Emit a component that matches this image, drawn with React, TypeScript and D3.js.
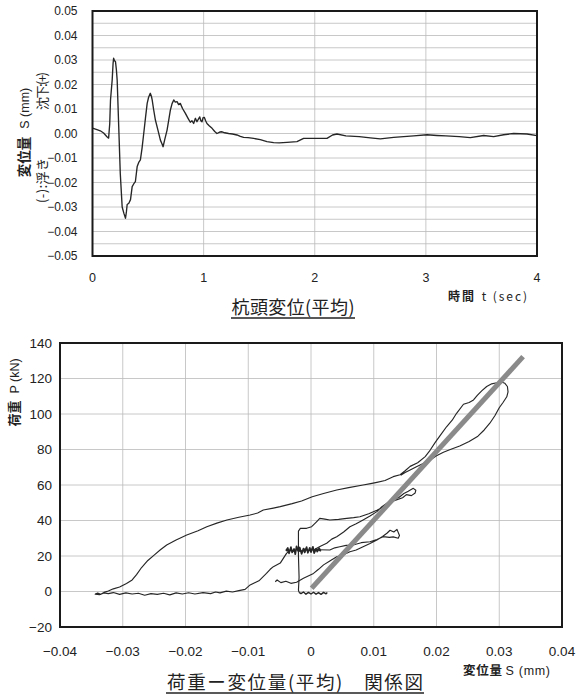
import React from "react";
import * as d3 from "d3";

// ---------- Top chart data: pile-head displacement vs time ----------
const dispTime = [
  0.0, 0.04, 0.07, 0.1, 0.13, 0.145, 0.155, 0.162, 0.177, 0.185, 0.19, 0.197, 0.207, 0.215, 0.222,
  0.236, 0.25, 0.267, 0.282, 0.297, 0.305, 0.312, 0.327, 0.342, 0.357, 0.372, 0.386, 0.402, 0.416,
  0.431, 0.446, 0.461, 0.477, 0.492, 0.505, 0.52, 0.53, 0.537, 0.55, 0.566, 0.59, 0.611, 0.625,
  0.635, 0.65, 0.671, 0.686, 0.701, 0.716, 0.731, 0.745, 0.761, 0.775, 0.79, 0.81, 0.836, 0.86,
  0.88, 0.895, 0.91, 0.926, 0.94, 0.952, 0.965, 0.975, 0.985, 0.995, 1.006, 1.018, 1.03, 1.05,
  1.076, 1.1, 1.12, 1.145, 1.166, 1.19, 1.225, 1.26, 1.3, 1.33, 1.36, 1.4, 1.45, 1.51, 1.57, 1.63,
  1.68, 1.75, 1.84, 1.9, 2.0, 2.11, 2.16, 2.2, 2.28, 2.4, 2.5, 2.59, 2.71, 2.8, 2.89, 3.01, 3.1,
  3.18, 3.3, 3.4, 3.52, 3.61, 3.7, 3.79, 3.91, 4.0,
];
const dispValue = [
  0.0022, 0.0016, 0.0011, 0.0002, -0.0013, -0.0019, 0.004, 0.0137, 0.0218, 0.0285, 0.0307, 0.0298,
  0.0293, 0.026, 0.0218, 0.0028, -0.0163, -0.03, -0.0325, -0.0346, -0.032, -0.029, -0.0285,
  -0.027, -0.0217, -0.0205, -0.0196, -0.0135, -0.0118, -0.0108, -0.006, 0.0, 0.0065, 0.0123,
  0.0148, 0.0164, 0.0152, 0.0137, 0.0098, 0.0055, 0.0012, -0.0027, -0.0042, -0.0054, -0.0025,
  0.0014, 0.0055, 0.0096, 0.0122, 0.0137, 0.0128, 0.013, 0.0118, 0.0123, 0.0102, 0.0082, 0.0062,
  0.0046, 0.0052, 0.0041, 0.0062, 0.0048, 0.0058, 0.0068, 0.0052, 0.0048, 0.0065, 0.0066, 0.0052,
  0.0041, 0.0032, 0.0021, 0.0008, 0.0, 0.0006, 0.0007, 0.0003, 0.0, -0.0002, -0.0006, -0.0012,
  -0.0016, -0.0017, -0.002, -0.0025, -0.0033, -0.0037, -0.0038, -0.0036, -0.0033, -0.002, -0.002,
  -0.002, -0.0006, -0.0002, -0.001, -0.0013, -0.0018, -0.0022, -0.0016, -0.0013, -0.001, -0.0005,
  -0.0008, -0.001, -0.0013, -0.0017, -0.0008, -0.0013, -0.0005, 0.0, -0.0002, -0.0009,
];
const topYTicks = [0.05, 0.04, 0.03, 0.02, 0.01, 0.0, -0.01, -0.02, -0.03, -0.04, -0.05];
const topYLabels = ["0.05", "0.04", "0.03", "0.02", "0.01", "0.00", "−0.01", "−0.02", "−0.03", "−0.04", "−0.05"];
const topYGrid = [0.045, 0.04, 0.035, 0.03, 0.025, 0.02, 0.015, 0.01, 0.005, 0.0, -0.005, -0.01, -0.015, -0.02, -0.025, -0.03, -0.035, -0.04, -0.045];
const topXTicks = [0, 1, 2, 3, 4];
const topXGrid = [1, 2, 3];

// ---------- Bottom chart data: load P (kN) vs displacement S (mm) ----------
const loopA: [number, number][] = [
  [-0.0036, 22.5], [-0.0039, 21.5], [-0.0049, 16], [-0.006, 14], [-0.0065, 12.5], [-0.0071, 10.2],
  [-0.0083, 6], [-0.0097, 3.7], [-0.0105, 1.2], [-0.0115, 0.5], [-0.0125, -0.3], [-0.0135, 0.2],
  [-0.0145, -0.8], [-0.0152, -0.3], [-0.016, -1.2], [-0.0172, -0.6], [-0.0185, -1.4], [-0.0195, -0.7],
  [-0.0205, -1.4], [-0.0215, -0.8], [-0.0225, -1.9], [-0.0235, -1.0], [-0.0245, -1.6], [-0.0255, -1.2],
  [-0.0265, -2.1], [-0.0275, -1.0], [-0.0285, -1.4], [-0.0295, -0.8], [-0.0305, -1.6], [-0.0315, -0.6],
  [-0.0323, -1.2], [-0.033, -0.8], [-0.0337, -1.8], [-0.0344, -1.5], [-0.034, -0.9], [-0.0335, -1.6],
  [-0.033, -0.5], [-0.0323, 0.3], [-0.0315, 1.5], [-0.0305, 2.5], [-0.0294, 4.5], [-0.0285, 6.5],
  [-0.0278, 9.5], [-0.027, 13.5], [-0.026, 17.5], [-0.025, 20.5], [-0.024, 23.5], [-0.023, 26.2],
  [-0.0215, 29], [-0.0198, 31.8], [-0.018, 34.2], [-0.0166, 36.5], [-0.015, 38.5], [-0.0134, 40.3],
  [-0.0115, 41.8], [-0.0097, 43.1], [-0.0085, 44.2], [-0.0076, 45.9], [-0.006, 47], [-0.0049, 47.8],
  [-0.003, 49.5], [-0.0015, 51], [0.0002, 53.4], [0.002, 55.2], [0.0041, 57.2], [0.006, 58.5],
  [0.0083, 60], [0.0095, 60.8], [0.0105, 61.5], [0.0118, 62.5], [0.0131, 64.7], [0.0142, 65.8],
  [0.015, 68], [0.0158, 70.5], [0.017, 72.5], [0.0182, 76], [0.019, 79.7], [0.0198, 84],
  [0.0206, 88], [0.0216, 92.8], [0.0225, 96.5], [0.0232, 100.4], [0.0243, 105.5], [0.0252, 106.5],
  [0.0259, 107.9], [0.0265, 110.5], [0.0272, 113], [0.028, 115.5], [0.0288, 117], [0.0296, 117.6],
  [0.0302, 118.2], [0.0309, 117.3], [0.0313, 115.5], [0.0314, 112.5], [0.0312, 109.7], [0.0306, 106.5],
  [0.03, 103.5], [0.0293, 99], [0.0285, 94.8], [0.0276, 91], [0.0266, 87.5], [0.0252, 84.5],
  [0.0237, 82], [0.0222, 80], [0.0211, 78.5], [0.02, 76.5], [0.019, 74.1], [0.0178, 72],
  [0.0168, 70.3], [0.0158, 68.5], [0.015, 67], [0.0143, 65.5],
];
const loopB: [number, number][] = [
  [0.0004, 23.4], [0.0015, 25.5], [0.0025, 27.2], [0.0033, 29.5], [0.0041, 30.9], [0.0052, 33.5],
  [0.0062, 36.5], [0.0072, 38.2], [0.0083, 40.3], [0.0094, 42.5], [0.0105, 45], [0.0113, 47.8],
  [0.0121, 49.7], [0.013, 51.8], [0.014, 53], [0.0148, 55.2], [0.0155, 56.5], [0.0163, 58.1],
  [0.0167, 57], [0.0166, 55.5], [0.016, 54], [0.0152, 54.6], [0.0146, 52.8], [0.0135, 51.5],
  [0.0121, 49.2], [0.0112, 47], [0.0105, 45.8], [0.0092, 43.8], [0.0078, 42.1], [0.0068, 41.6],
  [0.0057, 41.2], [0.0044, 40.6], [0.003, 40.3], [0.0022, 40.8], [0.0014, 41.2], [0.0008, 39],
  [0.0001, 36.5], [-0.0007, 35.6], [-0.0017, 35.6], [-0.002, 34], [-0.002, 20], [-0.0019, 8],
  [-0.002, 0.8], [-0.0019, -0.5],
];
const endNoise: [number, number][] = [
  [-0.0019, -0.5], [-0.0016, -1.2], [-0.0012, -0.3], [-0.0008, -1.5], [-0.0004, -0.5], [0.0, -1.4],
  [0.0004, -0.4], [0.0008, -1.5], [0.0012, -0.6], [0.0016, -1.6], [0.002, -0.5], [0.0024, -1.3],
  [0.0026, -0.6],
];
const loopC: [number, number][] = [
  [-0.0057, 5.5], [-0.0054, 6.5], [-0.0048, 5], [-0.004, 5.8], [-0.0032, 4.6], [-0.0023, 5.2],
  [-0.0012, 7.5], [0.0004, 10.2], [0.0012, 12.5], [0.002, 15], [0.003, 17.2], [0.0041, 19.6],
  [0.005, 20.5], [0.0062, 22.4], [0.0072, 23.4], [0.0083, 25.2], [0.0094, 27], [0.0105, 29],
  [0.0114, 31], [0.0121, 32.8], [0.0126, 34.5], [0.0132, 33.5], [0.0137, 35], [0.0141, 31.5],
  [0.0139, 30], [0.0131, 30.8], [0.0125, 30.5], [0.0115, 30.9], [0.0105, 29.3], [0.0094, 28],
  [0.008, 27.5], [0.0067, 26.2], [0.0056, 26], [0.0046, 25.2], [0.0038, 24.6], [0.003, 23.4],
  [0.0012, 23.5],
];
const blob: [number, number][] = [
  [-0.004, 23], [-0.0037, 24.5], [-0.0035, 21.5], [-0.0032, 25], [-0.003, 22], [-0.0027, 24],
  [-0.0025, 21], [-0.0023, 25.5], [-0.002, 22.5], [-0.0018, 24.8], [-0.0015, 21.2], [-0.0012, 24.2],
  [-0.001, 22], [-0.0007, 25], [-0.0005, 21.8], [-0.0002, 24.6], [0.0, 22.2], [0.0003, 25.2],
  [0.0005, 21.6], [0.0008, 24], [0.001, 22.5], [0.0013, 24.4], [0.0015, 23], [0.0011, 23.8],
  [0.0006, 22.8], [0.0002, 24], [-0.0004, 23], [-0.001, 23.8], [-0.0016, 22.6], [-0.0022, 23.6],
  [-0.0028, 22.8], [-0.0034, 23.4], [-0.0039, 22.9],
];
const fitLine: [number, number][] = [
  [0.0001, 1.8],
  [0.0338, 132.3],
];
const botXTicks = [-0.04, -0.03, -0.02, -0.01, 0, 0.01, 0.02, 0.03, 0.04];
const botXLabels = ["−0.04", "−0.03", "−0.02", "−0.01", "0", "0.01", "0.02", "0.03", "0.04"];
const botYTicks = [140, 120, 100, 80, 60, 40, 20, 0, -20];
const botYLabels = ["140", "120", "100", "80", "60", "40", "20", "0", "−20"];

const NUM_FONT = "'Liberation Sans', Arial, sans-serif";
const JP_FONT = "'Noto Sans CJK JP', 'Noto Sans', sans-serif";

export default function App() {
  const topX = d3.scaleLinear().domain([0, 4]).range([92.5, 537]);
  const topY = d3.scaleLinear().domain([-0.05, 0.05]).range([256, 11]);
  const botX = d3.scaleLinear().domain([-0.04, 0.04]).range([60, 562]);
  const botY = d3.scaleLinear().domain([-20, 140]).range([627, 343]);

  const topLine = d3
    .line<number>()
    .x((_, i) => topX(dispTime[i]))
    .y((d) => topY(d));
  const botLine = d3
    .line<[number, number]>()
    .x((d) => botX(d[0]))
    .y((d) => botY(d[1]));

  const gridColor = "#bababa";
  const curveColor = "#262626";

  return (
    <svg
      width={581}
      height={695}
      viewBox="0 0 581 695"
      style={{ position: "absolute", left: 0, top: 0, background: "#fff" }}
    >
      <rect x={0} y={0} width={581} height={695} fill="#fff" />

      {/* ---------------- TOP CHART ---------------- */}
      {topYGrid.map((v) => (
        <line key={"tg" + v} x1={topX(0)} x2={topX(4)} y1={topY(v)} y2={topY(v)} stroke={gridColor} strokeWidth={0.8} />
      ))}
      {topXGrid.map((v) => (
        <line key={"tv" + v} x1={topX(v)} x2={topX(v)} y1={topY(0.05)} y2={topY(-0.05)} stroke={gridColor} strokeWidth={0.8} />
      ))}
      <path d={topLine(dispValue) || ""} fill="none" stroke={curveColor} strokeWidth={1.35} strokeLinejoin="round" />
      <rect x={topX(0)} y={topY(0.05)} width={topX(4) - topX(0)} height={topY(-0.05) - topY(0.05)} fill="none" stroke="#1a1a1a" strokeWidth={2} />
      {topYTicks.map((v, i) => (
        <text key={"ty" + v} x={77.5} y={topY(v) + 4.3} textAnchor="end" fontFamily={NUM_FONT} fontSize={12} fill="#222">
          {topYLabels[i]}
        </text>
      ))}
      {topXTicks.map((v) => (
        <text key={"tx" + v} x={topX(v)} y={281.5} textAnchor="middle" fontFamily={NUM_FONT} fontSize={12.5} fill="#222">
          {String(v)}
        </text>
      ))}
      <text transform="translate(29,132.5) rotate(-90)" textAnchor="middle" fontFamily={JP_FONT} fontSize={13.5} fill="#222">
        <tspan fontWeight="bold">変位量</tspan>
        <tspan dx={8} fontFamily={NUM_FONT} fontSize={12.5}>S (mm)</tspan>
      </text>
      <text transform="translate(46.5,91) rotate(-90)" textAnchor="middle" fontFamily={JP_FONT} fontSize={13} fill="#222" textLength={38} lengthAdjust="spacing">
        沈下:(+)
      </text>
      <text transform="translate(46.5,180.5) rotate(-90)" textAnchor="middle" fontFamily={JP_FONT} fontSize={13} fill="#222" textLength={45} lengthAdjust="spacing">
        (-):浮き
      </text>
      <text x={448} y={301} fontFamily={JP_FONT} fontSize={12} fill="#222" textLength={79} lengthAdjust="spacing">
        <tspan fontWeight="bold">時間</tspan>
        <tspan dx={6}>t (sec)</tspan>
      </text>
      <text x={231.5} y={314} fontFamily={JP_FONT} fontSize={18} fill="#222" textLength={123} lengthAdjust="spacing">
        杭頭変位(平均)
      </text>
      <line x1={231} x2={355} y1={318} y2={318} stroke="#222" strokeWidth={1.3} />

      {/* ---------------- BOTTOM CHART ---------------- */}
      {botYTicks.map((v) => (
        <line key={"bg" + v} x1={botX(-0.04)} x2={botX(0.04)} y1={botY(v)} y2={botY(v)} stroke={gridColor} strokeWidth={0.8} />
      ))}
      {botXTicks.map((v) => (
        <line key={"bv" + v} x1={botX(v)} x2={botX(v)} y1={botY(140)} y2={botY(-20)} stroke={gridColor} strokeWidth={0.8} />
      ))}
      <path d={botLine(loopA) || ""} fill="none" stroke={curveColor} strokeWidth={1.15} strokeLinejoin="round" />
      <path d={botLine(loopB) || ""} fill="none" stroke={curveColor} strokeWidth={1.15} strokeLinejoin="round" />
      <path d={botLine(loopC) || ""} fill="none" stroke={curveColor} strokeWidth={1.15} strokeLinejoin="round" />
      <path d={botLine(endNoise) || ""} fill="none" stroke={curveColor} strokeWidth={1.4} strokeLinejoin="round" />
      <path d={botLine(blob) || ""} fill="none" stroke={curveColor} strokeWidth={1.7} strokeLinejoin="round" />
      <path d={botLine(fitLine) || ""} fill="none" stroke="#8a8a8a" strokeWidth={5} />
      <rect x={botX(-0.04)} y={botY(140)} width={botX(0.04) - botX(-0.04)} height={botY(-20) - botY(140)} fill="none" stroke="#1a1a1a" strokeWidth={2} />
      {botYTicks.map((v, i) => (
        <text key={"by" + v} x={52} y={botY(v) + 4.8} textAnchor="end" fontFamily={NUM_FONT} fontSize={13.5} fill="#222">
          {botYLabels[i]}
        </text>
      ))}
      {botXTicks.map((v, i) => (
        <text key={"bx" + v} x={botX(v)} y={655.5} textAnchor="middle" fontFamily={NUM_FONT} fontSize={13.5} fill="#222">
          {botXLabels[i]}
        </text>
      ))}
      <text transform="translate(19,392.5) rotate(-90)" textAnchor="middle" fontFamily={JP_FONT} fontSize={13} fill="#222">
        <tspan fontWeight="bold">荷重</tspan>
        <tspan dx={7} fontFamily={NUM_FONT} fontSize={12.5}>P (kN)</tspan>
      </text>
      <text x={463} y={675} fontFamily={JP_FONT} fontSize={12.5} fill="#222" textLength={87} lengthAdjust="spacing">
        <tspan fontWeight="bold">変位量</tspan>
        <tspan dx={3} fontFamily={NUM_FONT}>S (mm)</tspan>
      </text>
      <text x={167} y={689} fontFamily={JP_FONT} fontSize={18.5} fill="#222" textLength={256} lengthAdjust="spacing">
        荷重ー変位量(平均)　関係図
      </text>
      <line x1={166} x2={424} y1={693} y2={693} stroke="#222" strokeWidth={1.3} />
    </svg>
  );
}
